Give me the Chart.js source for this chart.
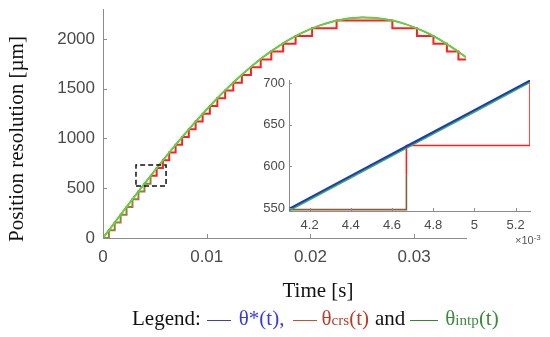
<!DOCTYPE html>
<html>
<head>
<meta charset="utf-8">
<script src="https://cdn.jsdelivr.net/npm/chart.js@4.4.1/dist/chart.umd.min.js"></script>
<style>
  body { margin: 0; background: #fff; }
  #wrap { position: relative; width: 550px; height: 337px; overflow: hidden; }
  #main { position: absolute; left: 0; top: 0; }
  #zoom { position: absolute; left: 240px; top: 70px; }
  .serif { position: absolute; font-family: "Liberation Serif", serif; font-size: 21px; color: #111; white-space: nowrap; }
  #ytitle { left: -134px; top: 127px; width: 300px; text-align: center; line-height: 24px; transform: rotate(-90deg); }
  #xtitle { left: 218px; top: 278px; width: 200px; text-align: center; line-height: 24px; }
  #legend { left: 132px; top: 305px; line-height: 26px; }
  #legend .ln { display: inline-block; width: 24px; height: 0; border-top: 1.5px solid; vertical-align: middle; }
  #legend sub { font-size: 0.72em; vertical-align: 0.02em; }
  #exp { position: absolute; left: 515px; top: 233px; font-family: "Liberation Sans", Arial, sans-serif; font-size: 11px; color: #555; }
  #exp sup { font-size: 8px; vertical-align: 4px; }
</style>
</head>
<body>
<div id="wrap">
  <canvas id="main" width="550" height="337"></canvas>
  <canvas id="zoom" width="305" height="185"></canvas>
  <div id="ytitle" class="serif">Position resolution [µm]</div>
  <div id="xtitle" class="serif">Time [s]</div>
  <div id="legend" class="serif">Legend:<span class="ln" style="color:#3b3bdc;margin:0 8px 0 6px"></span><span style="color:#3b3bdc">θ*(t),</span><span class="ln" style="color:#e0452a;margin:0 4px 0 9px"></span><span style="color:#b5402a">θ<sub>crs</sub>(t)</span><span style="margin:0 5px 0 6px">and</span><span class="ln" style="color:#2f8a2f;width:28px;margin-right:7px"></span><span style="color:#3d8a3d">θ<sub>intp</sub>(t)</span></div>
  <div id="exp">×10<sup>-3</sup></div>
</div>
<script>
// main plot: time [s] vs position [µm]
const mainTime = [0, 0.001, 0.002, 0.003, 0.004, 0.005, 0.006, 0.007, 0.008, 0.009,
  0.010, 0.011, 0.012, 0.013, 0.014, 0.015, 0.016, 0.017, 0.018, 0.019,
  0.020, 0.021, 0.022, 0.023, 0.024, 0.025, 0.026, 0.027, 0.028, 0.029,
  0.030, 0.031, 0.032, 0.033, 0.034, 0.035];
const thetaRef = [0, 138, 275, 412, 546, 679, 809, 936, 1059, 1178,
  1292, 1402, 1506, 1604, 1696, 1782, 1860, 1931, 1995, 2051,
  2099, 2139, 2171, 2194, 2209, 2215, 2212, 2201, 2182, 2154,
  2117, 2073, 2020, 1959, 1891, 1816];
const thetaIntp = [0, 137, 274, 411, 545, 678, 808, 935, 1058, 1177,
  1291, 1401, 1505, 1603, 1695, 1781, 1859, 1930, 1994, 2050,
  2098, 2138, 2170, 2193, 2208, 2214, 2211, 2200, 2181, 2153,
  2116, 2072, 2019, 1958, 1890, 1815];
const stepTime = [0, 0.000565, 0.001131, 0.001699, 0.002269, 0.002841, 0.003417, 0.003998,
  0.004584, 0.005176, 0.005776, 0.006384, 0.007001, 0.007630, 0.008273, 0.008931,
  0.009608, 0.010305, 0.011027, 0.011778, 0.012563, 0.013390, 0.014266, 0.015206,
  0.016230, 0.017369, 0.018571, 0.020161, 0.022520, 0.027900, 0.030270, 0.031860,
  0.033160, 0.034270, 0.035];
const stepLevel = [0, 78, 156, 234, 312, 390, 468, 546,
  624, 702, 780, 858, 936, 1014, 1092, 1170,
  1248, 1326, 1404, 1482, 1560, 1638, 1716, 1794,
  1872, 1950, 2028, 2106, 2184, 2106, 2028, 1950,
  1872, 1794, 1794];
const boxTime = [0.00318, 0.00608, 0.00608, 0.00318, 0.00318];
const boxLevel = [523, 523, 734, 734, 523];
const mainXTicks = [0, 0.01, 0.02, 0.03];
const mainYTicks = [0, 500, 1000, 1500, 2000];

// inset: time in 1e-3 s
const zoomTime = [4.1, 4.4, 4.7, 5.0, 5.27];
const zoomRef = [549, 588.5, 628, 667.5, 703];
const zoomIntp = [547, 586.5, 626, 665.5, 701];
const zoomStepTime = [4.1, 4.67, 4.67, 4.67, 5.27, 5.27];
const zoomStepLevel = [548, 548, 590, 625, 625, 704];
const zoomXTicks = [4.2, 4.4, 4.6, 4.8, 5.0, 5.2];
const zoomYTicks = [550, 600, 650, 700];

const COLORS = {
  blue: "#1f35c8",
  green: "#62d13c",
  greenDark: "#3cb44b",
  red: "#ff1f1f",
  olive: "#9a7d3a",
  brown: "#8b5e34",
  axis: "#8c8c8c",
  tick: "#4a4a4a",
};

const pts = (xs, ys) => xs.map((x, i) => ({ x: x, y: ys[i] }));

// MATLAB style ticks pointing into the plot
const innerTicks = {
  id: "innerTicks",
  afterDatasetsDraw(chart, args, opts) {
    const ctx = chart.ctx;
    const len = opts.len || 4;
    ctx.save();
    ctx.strokeStyle = COLORS.axis;
    ctx.lineWidth = 1;
    const xs = chart.scales.x;
    const ys = chart.scales.y;
    xs.ticks.forEach((t) => {
      const px = Math.round(xs.getPixelForValue(t.value)) + 0.5;
      ctx.beginPath();
      ctx.moveTo(px, ys.bottom);
      ctx.lineTo(px, ys.bottom - len);
      ctx.stroke();
    });
    ys.ticks.forEach((t) => {
      const py = Math.round(ys.getPixelForValue(t.value)) + 0.5;
      ctx.beginPath();
      ctx.moveTo(xs.left, py);
      ctx.lineTo(xs.left + len, py);
      ctx.stroke();
    });
    ctx.restore();
  },
};

function axisOpts(min, max, tickList, fontSize, pad, size, horizontal, fmt) {
  return {
    type: "linear",
    min: min,
    max: max,
    afterBuildTicks: (s) => { s.ticks = tickList.map((v) => ({ value: v })); },
    afterFit: (s) => {
      // fixed axis box, no extra room for overhanging labels
      if (horizontal) {
        s.height = size;
        s.paddingLeft = 0;
        s.paddingRight = 0;
      } else {
        s.width = size;
        s.paddingTop = 0;
        s.paddingBottom = 0;
      }
    },
    grid: { display: false, drawTicks: false },
    border: { display: true, color: COLORS.axis, width: 1 },
    ticks: {
      autoSkip: false,
      maxRotation: 0,
      padding: pad,
      color: COLORS.tick,
      font: { family: "'Liberation Sans', Arial, sans-serif", size: fontSize },
      callback: fmt,
    },
  };
}

function initialMainChart() {
  const ctx = document.getElementById("main").getContext("2d");
  return new Chart(ctx, {
    type: "line",
    data: {
      datasets: [
        {
          data: pts(boxTime, boxLevel),
          borderColor: "#111",
          borderWidth: 1.5,
          borderDash: [5, 3],
          pointRadius: 0,
          order: 0,
        },
        {
          data: pts(mainTime, thetaIntp),
          borderColor: COLORS.green,
          borderWidth: 2,
          pointRadius: 0,
          cubicInterpolationMode: "monotone",
          order: 1,
        },
        {
          data: pts(mainTime, thetaRef),
          borderColor: COLORS.blue,
          borderWidth: 1.2,
          pointRadius: 0,
          cubicInterpolationMode: "monotone",
          order: 2,
        },
        {
          data: pts(stepTime, stepLevel),
          borderColor: COLORS.red,
          borderWidth: 2,
          pointRadius: 0,
          stepped: "before",
          segment: {
            borderColor: (c) => (c.p0.parsed.x < 0.0044 ? COLORS.olive : undefined),
          },
          order: 3,
        },
      ],
    },
    plugins: [innerTicks],
    options: {
      responsive: false,
      animation: false,
      layout: { padding: { top: 9, right: 84, bottom: 0, left: 0 } },
      scales: {
        x: axisOpts(0, 0.035, mainXTicks, 17, 9, 99, true,
          (v) => (v === 0 ? "0" : v.toFixed(2))),
        y: axisOpts(0, 2300, mainYTicks, 17, 8, 103, false, (v) => String(v)),
      },
      plugins: {
        legend: { display: false },
        tooltip: { enabled: false },
        innerTicks: { len: 4 },
      },
    },
  });
}

function initialZoomChart() {
  const ctx = document.getElementById("zoom").getContext("2d");
  return new Chart(ctx, {
    type: "line",
    data: {
      datasets: [
        {
          data: pts(zoomTime, zoomRef),
          borderColor: COLORS.blue,
          borderWidth: 2,
          pointRadius: 0,
          order: 0,
        },
        {
          data: pts(zoomTime, zoomIntp),
          borderColor: COLORS.greenDark,
          borderWidth: 2,
          pointRadius: 0,
          order: 1,
        },
        {
          data: pts(zoomStepTime, zoomStepLevel),
          borderColor: COLORS.red,
          borderWidth: 1.6,
          pointRadius: 0,
          segment: {
            borderColor: (c) => (c.p0DataIndex < 2 ? COLORS.brown : undefined),
          },
          order: 2,
        },
      ],
    },
    plugins: [innerTicks],
    options: {
      responsive: false,
      animation: false,
      layout: { padding: { top: 10, right: 15, bottom: 0, left: 0 } },
      scales: {
        x: axisOpts(4.1, 5.27, zoomXTicks, 13, 7, 44, true,
          (v) => String(Number(v.toFixed(1)))),
        y: axisOpts(546.4, 703.6, zoomYTicks, 13, 4, 49, false, (v) => String(v)),
      },
      plugins: {
        legend: { display: false },
        tooltip: { enabled: false },
        innerTicks: { len: 3 },
      },
    },
  });
}

initialMainChart();
initialZoomChart();
</script>
</body>
</html>
